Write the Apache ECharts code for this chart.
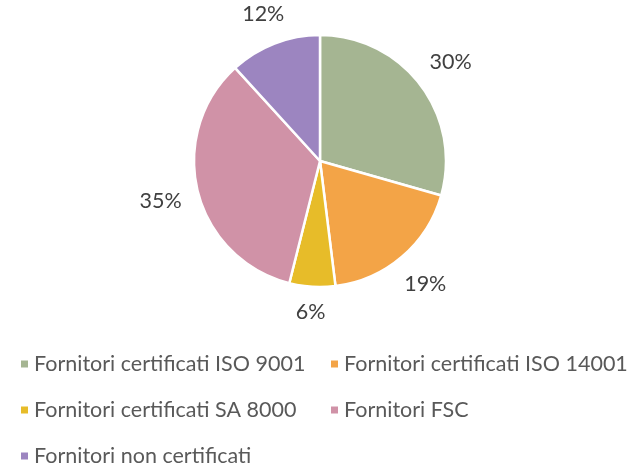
<!DOCTYPE html>
<html>
<head>
<meta charset="utf-8">
<script src="https://cdn.jsdelivr.net/npm/echarts@6/dist/echarts.min.js"></script>
<style>
  html, body { margin: 0; padding: 0; background: #fff; }
  #chart { width: 638px; height: 466px; }
</style>
</head>
<body>
<div id="chart"></div>
<script>
var categories = [
    'Fornitori certificati ISO 9001',
    'Fornitori certificati ISO 14001',
    'Fornitori certificati SA 8000',
    'Fornitori FSC',
    'Fornitori non certificati'
];
var shares = [30, 19, 6, 35, 12];
var colors = ['#A5B592', '#F3A447', '#E7BC29', '#D092A7', '#9C85C0'];

var cx = 320, cy = 161, r = 126, labelGap = 16;
var total = shares.reduce(function (a, b) { return a + b; }, 0);

function midAngle(idx) {
    var before = 0;
    for (var i = 0; i < idx; i++) before += shares[i];
    return (before + shares[idx] / 2) / total * Math.PI * 2;
}

var chart = echarts.init(document.getElementById('chart'));
chart.setOption({
    backgroundColor: '#fff',
    animation: false,
    color: colors,
    legend: {
        left: 19,
        top: 346,
        right: 0,
        padding: 0,
        icon: 'rect',
        itemWidth: 9,
        itemHeight: 9,
        itemGap: 10,
        itemTextGap: 11,
        textStyle: {
            fontFamily: 'Lato',
            fontSize: 21.5,
            color: '#595959',
            width: 285,
            lineHeight: 36,
            overflow: 'none'
        }
    },
    series: [{
        type: 'pie',
        center: [cx, cy],
        radius: r,
        startAngle: 90,
        clockwise: true,
        itemStyle: { borderColor: '#fff', borderWidth: 2.5 },
        label: {
            show: true,
            position: 'outside',
            formatter: '{c}%',
            fontFamily: 'Lato',
            fontSize: 21.5,
            lineHeight: 16,
            color: '#404040'
        },
        labelLine: { show: false },
        // push the label box out along the bisector until it clears the pie
        labelLayout: function (p) {
            var a = midAngle(p.dataIndex);
            var sx = Math.sin(a), sy = -Math.cos(a);
            var d = r + labelGap + Math.abs(sx) * p.labelRect.width / 2 + Math.abs(sy) * 8;
            return {
                x: cx + d * sx,
                y: cy + d * sy,
                align: 'center',
                verticalAlign: 'middle'
            };
        },
        emphasis: { disabled: true },
        data: categories.map(function (c, i) {
            return { name: c, value: shares[i] };
        })
    }]
});
</script>
</body>
</html>
